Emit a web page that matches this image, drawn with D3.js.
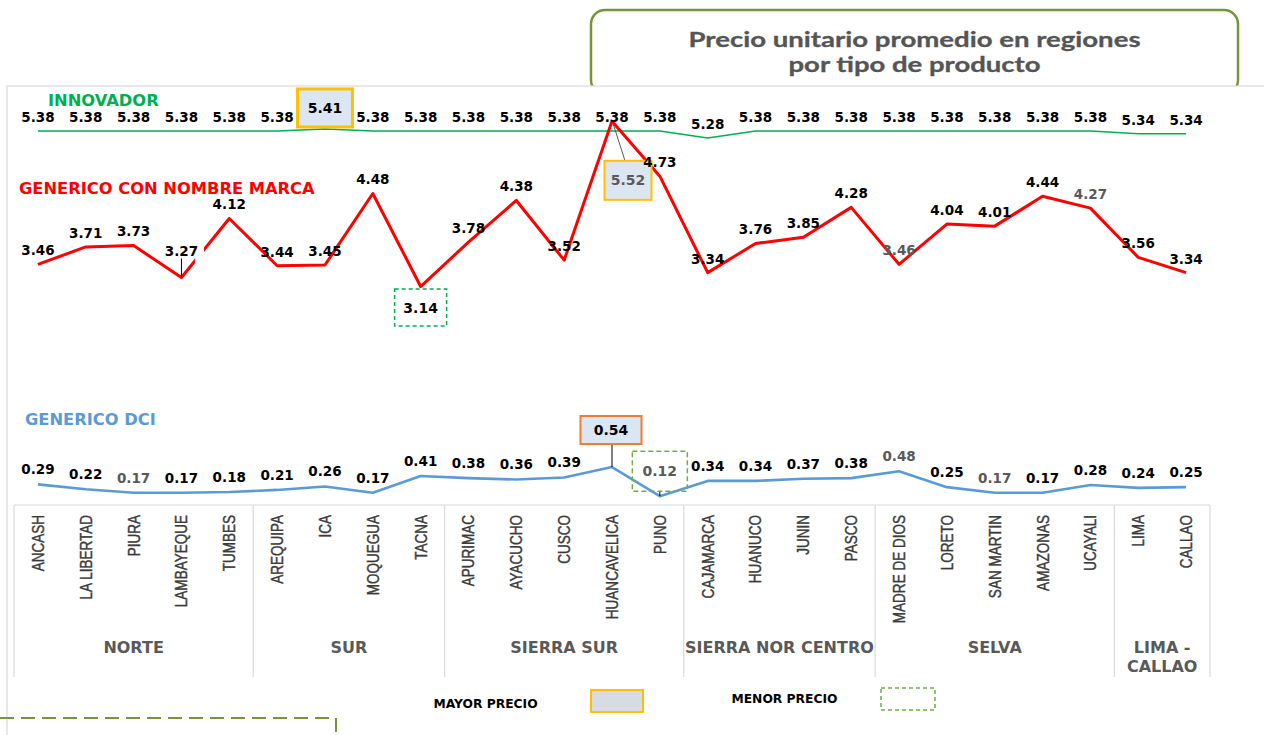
<!DOCTYPE html>
<html><head><meta charset="utf-8">
<script src="https://cdn.jsdelivr.net/npm/d3@7"></script>
<style>body{margin:0;background:#fff;} svg{display:block;}</style>
</head><body><svg id="c" width="1264" height="735"></svg>
<script>
const categories = ["ANCASH","LA LIBERTAD","PIURA","LAMBAYEQUE","TUMBES","AREQUIPA","ICA","MOQUEGUA","TACNA","APURIMAC","AYACUCHO","CUSCO","HUANCAVELICA","PUNO","CAJAMARCA","HUANUCO","JUNIN","PASCO","MADRE DE DIOS","LORETO","SAN MARTIN","AMAZONAS","UCAYALI","LIMA","CALLAO"];
const groups = ["NORTE","SUR","SIERRA SUR","SIERRA NOR CENTRO","SELVA","LIMA - CALLAO"];
const groupSizes = [5,4,5,4,5,2];
const innovador = [5.38,5.38,5.38,5.38,5.38,5.38,5.41,5.38,5.38,5.38,5.38,5.38,5.38,5.38,5.28,5.38,5.38,5.38,5.38,5.38,5.38,5.38,5.38,5.34,5.34];
const genericoMarca = [3.46,3.71,3.73,3.27,4.12,3.44,3.45,4.48,3.14,3.78,4.38,3.52,5.52,4.73,3.34,3.76,3.85,4.28,3.46,4.04,4.01,4.44,4.27,3.56,3.34];
const genericoDCI = [0.29,0.22,0.17,0.17,0.18,0.21,0.26,0.17,0.41,0.38,0.36,0.39,0.54,0.12,0.34,0.34,0.37,0.38,0.48,0.25,0.17,0.17,0.28,0.24,0.25];
const seriesNames = ["INNOVADOR","GENERICO CON NOMBRE MARCA","GENERICO DCI"];
const legendLabels = ["MAYOR PRECIO","MENOR PRECIO"];
const titleLines = ["Precio unitario promedio en regiones","por tipo de producto"];
const yTicks = [0, 6];

const svg = d3.select("#c");
const LABEL_FONT = "'DejaVu Sans', sans-serif";

// title box (partly hidden by chart area)
svg.append("rect").attr("x",591).attr("y",10).attr("width",647).attr("height",84)
  .attr("rx",14).attr("fill","#fff").attr("stroke","#77933C").attr("stroke-width",2.5);
const titleW = [452, 252];
svg.selectAll("text.title").data(titleLines).join("text").attr("class","title")
  .attr("x",914.5).attr("y",(d,i)=>47+i*25).attr("text-anchor","middle")
  .attr("font-family","Lato, sans-serif").attr("font-weight","bold")
  .attr("font-size",20.5).attr("fill","#555555").attr("stroke","#555555").attr("stroke-width",0.3)
  .attr("textLength",(d,i)=>titleW[i]).attr("lengthAdjust","spacingAndGlyphs").text(d=>d);

// chart area
svg.append("rect").attr("x",7).attr("y",86).attr("width",1300).attr("height",700)
  .attr("fill","#fff").attr("stroke","#D9D9D9").attr("stroke-width",1.2);

const x = d3.scaleBand().domain(categories).range([14,1210]);
const cx = c => x(c) + x.bandwidth()/2;
const y = d3.scaleLinear().domain(d3.extent(yTicks)).range([504.5,88]);

// category table
const tbl = svg.append("g");
tbl.append("line").attr("x1",14).attr("x2",1210).attr("y1",505).attr("y2",505)
  .attr("stroke","#D9D9D9").attr("stroke-width",1.2);
const bounds = [0];
groupSizes.forEach(s=>bounds.push(bounds[bounds.length-1]+s));
const bx = i => i < categories.length ? x(categories[i]) : x.range()[1];
tbl.selectAll("line.sep").data(bounds).join("line").attr("class","sep")
  .attr("x1",d=>bx(d)).attr("x2",d=>bx(d)).attr("y1",505).attr("y2",677)
  .attr("stroke","#D9D9D9").attr("stroke-width",1.2);

const axis = svg.append("g").attr("transform","translate(0,505)")
  .call(d3.axisBottom(x).tickSize(0));
axis.select(".domain").remove();
axis.selectAll("text")
  .attr("transform","rotate(-90) scale(0.82,1)").attr("x",-10/0.82).attr("y",0).attr("dy","0.36em")
  .attr("text-anchor","end").attr("font-family","'Liberation Sans', Arial, sans-serif")
  .attr("font-size",16.5).attr("fill","#3A3A3A").attr("stroke","#3A3A3A").attr("stroke-width",0.4);

// group labels
groups.forEach((g,i)=>{
  const gx = (bx(bounds[i]) + bx(bounds[i+1]))/2;
  const lines = g === "LIMA - CALLAO" ? ["LIMA -","CALLAO"] : [g];
  lines.forEach((t,j)=>{
    svg.append("text").attr("x",gx).attr("y",653+j*19).attr("text-anchor","middle")
      .attr("font-family",LABEL_FONT).attr("font-weight","bold").attr("font-size",16)
      .attr("fill","#595959").text(t);
  });
});

// series
const series = [
  {name:seriesNames[0], values:innovador, color:"#00B050", width:1.6, nameX:48, nameY:106, gray:[],
   boxes:{max:{dx:0,dy:-21,w:55,h:38,stroke:"#FFC000",sw:3,fill:"#DCE6F2",dash:null,leader:false,tc:"#000"}}},
  {name:seriesNames[1], values:genericoMarca, color:"#FF0000", width:3, nameX:19, nameY:194, gray:[18,22],
   boxes:{max:{dx:16,dy:59,w:47,h:39,stroke:"#FFC000",sw:2,fill:"#DCE6F2",dash:null,leader:"diag",tc:"#595959"},
          min:{dx:0,dy:21,w:52,h:37,stroke:"#00B050",sw:1.5,fill:"none",dash:"4,3",leader:false,tc:"#000"}}},
  {name:seriesNames[2], values:genericoDCI, color:"#5B9BD5", width:2.6, nameX:25, nameY:425, gray:[2,13,18,20],
   boxes:{max:{dx:-1,dy:-37,w:61,h:28,stroke:"#ED7D31",sw:2,fill:"#DCE6F2",dash:null,leader:"vert",tc:"#000"},
          min:{dx:0,dy:-25,w:55,h:40,stroke:"#70AD47",sw:1.5,fill:"none",dash:"5,3",leader:"vert",tc:"#595959"}}}
];

const line = d3.line().x((d,i)=>cx(categories[i])).y(d=>y(d));

series.forEach(s=>{
  svg.append("path").datum(s.values).attr("d",line).attr("fill","none")
    .attr("stroke",s.color).attr("stroke-width",s.width).attr("stroke-linejoin","round");
});

// label mask near LAMBAYEQUE (label background in original)
svg.append("rect").attr("x",195).attr("y",246).attr("width",9).attr("height",18).attr("fill","#fff");

series.forEach(s=>{
  svg.append("text").attr("x",s.nameX).attr("y",s.nameY).attr("font-family",LABEL_FONT)
    .attr("font-weight","bold").attr("font-size",16.3).attr("fill",s.color).text(s.name);
  const boxed = {};
  if (s.boxes.max) boxed[d3.maxIndex(s.values)] = s.boxes.max;
  if (s.boxes.min) boxed[d3.minIndex(s.values)] = s.boxes.min;
  s.values.forEach((v,i)=>{
    const px = cx(categories[i]), py = y(v);
    const b = boxed[i];
    if (b) {
      const tx = px + b.dx, ty = py + b.dy;
      if (b.leader === "diag") {
        svg.append("line").attr("x1",px+1).attr("y1",py+2).attr("x2",tx-3).attr("y2",ty-b.h/2)
          .attr("stroke","#595959").attr("stroke-width",1);
      } else if (b.leader === "vert") {
        const edge = b.dy < 0 ? ty + b.h/2 : ty - b.h/2;
        svg.append("line").attr("x1",px).attr("y1",py).attr("x2",px).attr("y2",edge)
          .attr("stroke","#000").attr("stroke-width",1);
      }
      svg.append("rect").attr("x",tx-b.w/2).attr("y",ty-b.h/2).attr("width",b.w).attr("height",b.h)
        .attr("fill",b.fill).attr("stroke",b.stroke).attr("stroke-width",b.sw)
        .attr("stroke-dasharray",b.dash);
      svg.append("text").attr("x",tx).attr("y",ty).attr("dy","0.36em").attr("text-anchor","middle")
        .attr("font-family",LABEL_FONT).attr("font-weight","bold").attr("font-size",14)
        .attr("fill",b.tc).text(v.toFixed(2));
    } else {
      let off = 14;
      if (s.values === genericoMarca && i === 3) {
        off = 26;
        svg.append("line").attr("x1",px).attr("x2",px).attr("y1",py).attr("y2",py-off+7)
          .attr("stroke","#000").attr("stroke-width",1);
      }
      if (s.values === genericoDCI) off = 15;
      svg.append("text").attr("x",px).attr("y",py-off).attr("dy","0.36em").attr("text-anchor","middle")
        .attr("font-family",LABEL_FONT).attr("font-weight","bold").attr("font-size",13.5)
        .attr("fill",s.gray.includes(i)?"#595959":"#000").text(v.toFixed(2));
    }
  });
});

// legend
const lg = [
  {tx:485.5, ty:704, rx:591, ry:690, w:52, h:22, fill:"#D6DCE4", stroke:"#FFC000", sw:2, dash:null},
  {tx:784.5, ty:699, rx:881, ry:688, w:54, h:22, fill:"#fff", stroke:"#70AD47", sw:1.5, dash:"4,3"}
];
legendLabels.forEach((t,i)=>{
  const L = lg[i];
  svg.append("text").attr("x",L.tx).attr("y",L.ty).attr("dy","0.36em").attr("text-anchor","middle")
    .attr("font-family",LABEL_FONT).attr("font-weight","bold").attr("font-size",12.3)
    .attr("fill","#000").text(t);
  svg.append("rect").attr("x",L.rx).attr("y",L.ry).attr("width",L.w).attr("height",L.h)
    .attr("fill",L.fill).attr("stroke",L.stroke).attr("stroke-width",L.sw).attr("stroke-dasharray",L.dash);
});

// dashed decoration bottom-left
svg.append("path").attr("d","M0,718H336V735").attr("fill","none")
  .attr("stroke","#77933C").attr("stroke-width",2).attr("stroke-dasharray","14,7");
</script></body></html>
